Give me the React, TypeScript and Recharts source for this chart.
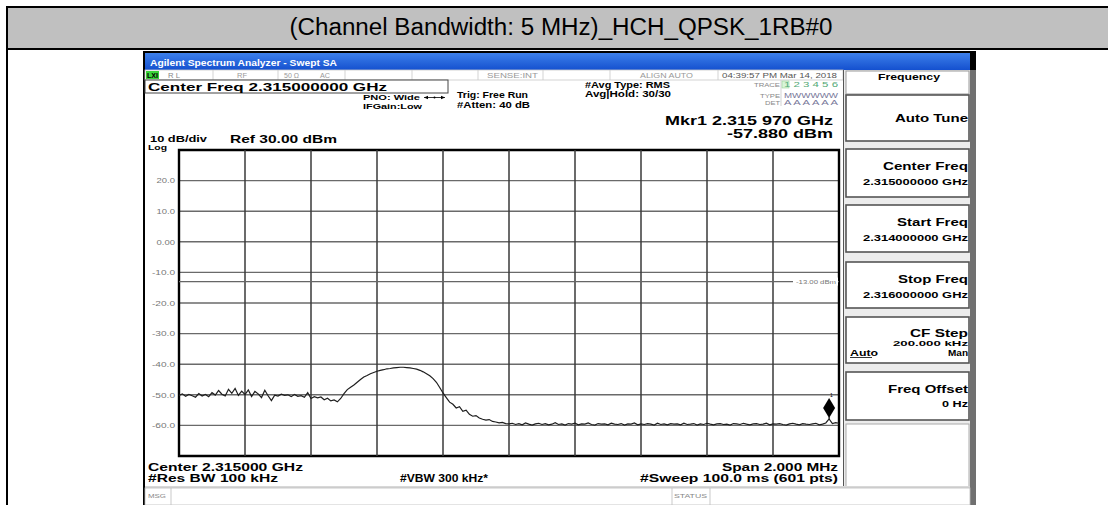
import React from 'react';
import { LineChart, Line, XAxis, YAxis, CartesianGrid, ReferenceLine, ReferenceDot, ReferenceArea } from 'recharts';

// ---- data ----
const FREQ_START_MHZ = 2314.0;
const FREQ_STEP_MHZ = 0.01;
const TRACE_DBM = [
  -50.2, -49.7, -50.5, -49.9, -50.3, -50.8, -49.6, -50.4, -49.9, -50.6,
  -49.3, -50.1, -48.6, -49.8, -50.4, -48.2, -49.5, -47.9, -50.2, -48.8,
  -49.9, -48.4, -50.6, -48.9, -49.7, -50.9, -48.5, -50.3, -51.9, -50.1,
  -50.4, -49.8, -50.2, -50.0, -50.6, -49.9, -50.5, -50.3, -50.8, -49.3,
  -51.2, -50.6, -51.0, -50.7, -51.6, -51.1, -52.0, -51.7, -52.3, -51.2,
  -49.6, -48.3, -47.5, -46.8, -45.9, -45.0, -44.2, -43.7, -43.1, -42.7,
  -42.3, -42.0, -41.8, -41.5, -41.4, -41.2, -41.1, -41.0, -41.0, -41.1,
  -41.2, -41.4, -41.6, -42.0, -42.5, -43.1, -43.8, -44.7, -45.9, -47.6,
  -49.4, -50.9, -52.4, -53.1, -54.3, -53.9, -55.4, -55.0, -56.4, -57.0,
  -56.8, -57.6, -58.0, -58.3, -58.1, -58.7, -58.9, -59.2, -59.0, -59.4,
  -59.5, -59.3, -59.7, -59.4, -59.8, -59.2, -59.6, -59.9, -59.5, -59.3,
  -59.7, -59.4, -59.8, -59.6, -59.1, -59.7, -59.5, -59.9, -59.4, -59.6,
  -59.3, -59.8, -59.5, -59.6, -59.2, -59.7, -59.9, -59.4, -59.6, -59.5,
  -59.8, -59.3, -59.6, -59.7, -59.4, -59.9, -59.5, -59.6, -59.2, -59.8,
  -59.5, -59.7, -59.4, -59.6, -59.9, -59.3, -59.7, -59.5, -59.8, -59.4,
  -59.6, -59.5, -59.8, -59.3, -59.7, -59.6, -59.4, -59.9, -59.5, -59.7,
  -59.3, -59.6, -59.8, -59.5, -59.4, -59.7, -59.6, -59.9, -59.4, -59.5,
  -59.7, -59.3, -59.6, -59.8, -59.5, -59.4, -59.7, -59.6, -59.3, -59.8,
  -59.5, -59.6, -59.4, -59.7, -59.9, -59.5, -59.3, -59.6, -59.8, -59.4,
  -59.6, -59.7, -59.5, -59.3, -59.8, -59.6, -59.2, -57.88, -59.4, -59.1,
  -59.3,
];
const X_DOMAIN = [2314.0, 2316.0];
const X_GRID_TICKS = [2314.2, 2314.4, 2314.6, 2314.8, 2315.0, 2315.2, 2315.4, 2315.6, 2315.8];
const Y_DOMAIN = [-70, 30];
const Y_TICKS = [-70, -60, -50, -40, -30, -20, -10, 0, 10, 20, 30];
const Y_TICK_LABELS: Record<number, string> = {
  20: '20.0', 10: '10.0', 0: '0.00', [-10]: '-10.0', [-20]: '-20.0',
  [-30]: '-30.0', [-40]: '-40.0', [-50]: '-50.0', [-60]: '-60.0',
};
const DISPLAY_LINE_DBM = -13;
const DISPLAY_LINE_LABEL = '-13.00 dBm';
const MARKER_FREQ_MHZ = 2315.97;
const MARKER_DBM = -57.88;

const DATA = TRACE_DBM.map((v, i) => ({ f: +(FREQ_START_MHZ + i * FREQ_STEP_MHZ).toFixed(2), v }));

const FONT = '"Liberation Sans", Arial, Helvetica, sans-serif';

function T({ x, y, s, w, b = true, c = '#000', a = 'start', adj = 'spacingAndGlyphs', children }: any) {
  return (
    <text x={x} y={y} fontSize={s} fontWeight={b ? 'bold' : 'normal'} fill={c} textAnchor={a}
      textLength={w} lengthAdjust={adj} fontFamily={FONT}>{children}</text>
  );
}

function Key({ y, h, light }: any) {
  return <rect x={846} y={y} width={123} height={h} fill="#fff" stroke={light ? '#aaa' : '#555'} strokeWidth={light ? 1 : 1.6} />;
}

function Background() {
  return (
    <svg width={1108} height={505} style={{ position: 'absolute', left: 0, top: 0 }}>
      <defs>
        <linearGradient id="tb" x1="0" y1="0" x2="0" y2="1">
          <stop offset="0" stopColor="#3d80ea" />
          <stop offset="1" stopColor="#1450cf" />
        </linearGradient>
      </defs>
      <rect x={0} y={0} width={1108} height={505} fill="#fff" />
      {/* document table */}
      <rect x={6} y={8} width={1102} height={40} fill="#c0c0c0" />
      <rect x={6} y={6} width={1102} height={2} fill="#000" />
      <rect x={6} y={48} width={1102} height={2} fill="#000" />
      <rect x={6} y={6} width={2} height={499} fill="#000" />
      <T x={561} y={35} s={23} b={false} a="middle" w={543}>(Channel Bandwidth: 5 MHz)_HCH_QPSK_1RB#0</T>

      {/* screenshot frame */}
      <rect x={143} y={51} width={833} height={454} fill="#000" />
      <rect x={145} y={70} width={825} height={435} fill="#fff" />
      <rect x={145} y={53} width={825} height={17} fill="url(#tb)" />
      <rect x={970} y={70} width={6} height={435} fill="#707070" />
      <T x={150} y={66} s={9.5} w={187} c="#fff">Agilent Spectrum Analyzer - Swept SA</T>

      {/* status row */}
      <rect x={145} y={70} width={698} height={10} fill="#fff" stroke="#c8c8c8" strokeWidth={0.8} />
      {[213, 278, 345, 412, 478, 543, 610, 718].map((x) => (
        <line key={x} x1={x} y1={70} x2={x} y2={80} stroke="#c8c8c8" strokeWidth={0.8} />
      ))}
      <rect x={146} y={71} width={13} height={8} fill="#3ad43a" />
      <T x={147} y={78} s={6.5} w={11} c="#000">LXI</T>
      <T x={168} y={78} s={6.5} w={12} b={false} c="#888">R L</T>
      <T x={237} y={78} s={6.5} w={10} b={false} c="#999">RF</T>
      <T x={284} y={78} s={6.5} w={15} b={false} c="#999">50 Ω</T>
      <T x={320} y={78} s={6.5} w={10} b={false} c="#999">AC</T>
      <T x={487} y={78} s={6.5} w={51} b={false} c="#999">SENSE:INT</T>
      <T x={640} y={78} s={6.5} w={53} b={false} c="#999">ALIGN AUTO</T>
      <T x={722} y={78} s={6.5} w={115} b={false} c="#555">04:39:57 PM Mar 14, 2018</T>

      {/* center freq box */}
      <rect x={145} y={80} width={303} height={13} fill="#fff" stroke="#444" strokeWidth={1} />
      <T x={148} y={91} s={11} w={239}>Center Freq 2.315000000 GHz</T>
      <T x={363} y={100} s={7.5} w={57}>PNO: Wide</T>
      <line x1={424} y1={97.5} x2={445} y2={97.5} stroke="#000" strokeWidth={0.8} />
      <polygon points="424,97.5 428,95.8 428,99.2" fill="#000" />
      <polygon points="445,97.5 441,95.8 441,99.2" fill="#000" />
      <circle cx={434.5} cy={97.5} r={1} fill="#000" />
      <T x={363} y={109} s={7.5} w={59}>IFGain:Low</T>
      <T x={457} y={98} s={8.5} w={71}>Trig: Free Run</T>
      <T x={457} y={108} s={8.5} w={73}>#Atten: 40 dB</T>
      <T x={585} y={88} s={8.5} w={85}>#Avg Type: RMS</T>
      <T x={585} y={97} s={8.5} w={86}>Avg|Hold: 30/30</T>

      {/* trace block */}
      <line x1={781} y1={80} x2={781} y2={106} stroke="#c8c8c8" strokeWidth={0.8} />
      <T x={780} y={87} s={5} w={26} b={false} c="#888" a="end">TRACE</T>
      <rect x={782} y={81} width={7} height={7} fill="#d8f5d8" stroke="#8c8" strokeWidth={0.5} />
      <T x={784} y={87} s={7} w={54} b={false} c="#5a7">1 2 3 4 5 6</T>
      <T x={780} y={98} s={5} w={20} b={false} c="#888" a="end">TYPE</T>
      <T x={784} y={98} s={6.5} w={54} b={false} c="#779">MWWWWW</T>
      <T x={780} y={105} s={5} w={15} b={false} c="#888" a="end">DET</T>
      <T x={784} y={105} s={6.5} w={54} b={false} c="#779">A A A A A A</T>

      {/* marker readout */}
      <T x={833} y={125} s={13.5} w={168} a="end">Mkr1 2.315 970 GHz</T>
      <T x={833} y={138} s={13.5} w={106} a="end">-57.880 dBm</T>

      <T x={150} y={142} s={9} w={57}>10 dB/div</T>
      <T x={148} y={149.5} s={8} w={19}>Log</T>
      <T x={230} y={143} s={11} w={107}>Ref 30.00 dBm</T>

      {/* softkey panel */}
      <rect x={843} y={70} width={127} height={418} fill="#ececec" />
      <line x1={843.5} y1={70} x2={843.5} y2={488} stroke="#555" strokeWidth={1} />
      <rect x={846} y={71} width={123} height={23} fill="#fff" stroke="#999" strokeWidth={1} />
      <T x={878} y={80} s={8.5} w={62}>Frequency</T>
      <Key y={95} h={46} />
      <T x={968} y={122} s={10.5} w={73} a="end">Auto Tune</T>
      <Key y={149} h={48} />
      <T x={968} y={170} s={10.5} w={85} a="end">Center Freq</T>
      <T x={968} y={185} s={8.5} w={105} a="end">2.315000000 GHz</T>
      <Key y={205} h={47} />
      <T x={968} y={226} s={10.5} w={71} a="end">Start Freq</T>
      <T x={968} y={241} s={8.5} w={105} a="end">2.314000000 GHz</T>
      <Key y={262} h={46} />
      <T x={968} y={283} s={10.5} w={70} a="end">Stop Freq</T>
      <T x={968} y={298} s={8.5} w={105} a="end">2.316000000 GHz</T>
      <Key y={317} h={46} />
      <T x={968} y={337} s={10.5} w={58} a="end">CF Step</T>
      <T x={968} y={345.5} s={8} w={75} a="end">200.000 kHz</T>
      <T x={850} y={356} s={8.5} w={28}>Auto</T>
      <line x1={850} y1={357.5} x2={872} y2={357.5} stroke="#000" strokeWidth={0.8} />
      <T x={968} y={356} s={8.5} w={20} a="end">Man</T>
      <Key y={372} h={48} />
      <T x={968} y={393} s={10.5} w={80} a="end">Freq Offset</T>
      <T x={968} y={407} s={8.5} w={26} a="end">0 Hz</T>
      <Key y={424} h={63} light />

      {/* bottom annotations */}
      <T x={148} y={470.5} s={11} w={155}>Center 2.315000 GHz</T>
      <T x={148} y={482} s={11} w={130}>#Res BW 100 kHz</T>
      <T x={400} y={482} s={11} w={88}>#VBW 300 kHz*</T>
      <T x={838} y={470.5} s={11} w={116} a="end">Span 2.000 MHz</T>
      <T x={838} y={482} s={11} w={198} a="end">#Sweep  100.0 ms (601 pts)</T>

      {/* message row */}
      <rect x={145} y={486} width={825} height={2} fill="#d8d8d8" />
      <rect x={145} y={488} width={825} height={17} fill="#fff" stroke="#bbb" strokeWidth={0.8} />
      <line x1={171} y1={488} x2={171} y2={505} stroke="#bbb" strokeWidth={0.8} />
      <line x1={672} y1={488} x2={672} y2={505} stroke="#bbb" strokeWidth={0.8} />
      <line x1={710} y1={488} x2={710} y2={505} stroke="#bbb" strokeWidth={0.8} />
      <T x={148} y={498} s={6} w={18} b={false} c="#888">MSG</T>
      <T x={674} y={498} s={6} w={33} b={false} c="#888">STATUS</T>
    </svg>
  );
}

function YTick({ x, y, payload }: any) {
  const label = Y_TICK_LABELS[payload.value];
  if (!label) return null;
  return (
    <text x={x} y={y} dy="0.35em" textAnchor="end" fontSize={8} fill="#777" fontFamily={FONT}
      textLength={label.length * 4.6} lengthAdjust="spacingAndGlyphs">{label}</text>
  );
}

function DisplayLineLabel({ viewBox }: any) {
  const x = viewBox.x + viewBox.width;
  const y = viewBox.y;
  return (
    <g>
      <rect x={x - 46} y={y - 4} width={45} height={8} fill="#fff" />
      <text x={x - 3} y={y} dy="0.35em" textAnchor="end" fontSize={6} fill="#777" fontFamily={FONT}
        textLength={40} lengthAdjust="spacingAndGlyphs">{DISPLAY_LINE_LABEL}</text>
    </g>
  );
}

function MarkerShape({ cx, cy }: any) {
  return (
    <g>
      <line x1={cx} y1={cy} x2={cx} y2={cy - 2} stroke="#000" strokeWidth={1} />
      <polygon points={`${cx},${cy - 21} ${cx + 6},${cy - 11} ${cx},${cy - 1} ${cx - 6},${cy - 11}`} fill="#000" />
      <text x={cx + 1} y={cy - 22} fontSize={5} fill="#000" fontFamily={FONT}>1</text>
    </g>
  );
}

export default function App() {
  return (
    <div style={{ position: 'absolute', left: 0, top: 0, width: 1108, height: 505, overflow: 'hidden', background: '#fff' }}>
      <Background />
      <div style={{ position: 'absolute', left: 0, top: 0 }}>
        <LineChart width={1108} height={505} data={DATA} margin={{ top: 150, right: 269, bottom: 49, left: 139 }}>
          <CartesianGrid stroke="#6a6a6a" strokeWidth={1.4} vertical={false} />
          <XAxis dataKey="f" type="number" domain={X_DOMAIN} ticks={X_GRID_TICKS} tick={false} tickLine={false} axisLine={false} height={0} allowDataOverflow />
          <YAxis type="number" domain={Y_DOMAIN} ticks={Y_TICKS} width={40} tickSize={0} tickMargin={4} axisLine={false} tickLine={false} tick={<YTick />} allowDataOverflow />
          {X_GRID_TICKS.map((f) => (
            <ReferenceLine key={f} x={f} stroke="#3a3a3a" strokeWidth={1.5} />
          ))}
          <ReferenceLine y={DISPLAY_LINE_DBM} stroke="#666" strokeWidth={1.2} label={<DisplayLineLabel />} />
          <Line dataKey="v" type="linear" stroke="#1e1e1e" strokeWidth={1.2} dot={false} isAnimationActive={false} />
          <ReferenceArea x1={X_DOMAIN[0]} x2={X_DOMAIN[1]} y1={Y_DOMAIN[0]} y2={Y_DOMAIN[1]} fill="none" stroke="#000" strokeWidth={2.4} ifOverflow="visible" />
          <ReferenceDot x={MARKER_FREQ_MHZ} y={MARKER_DBM} r={0} shape={<MarkerShape />} ifOverflow="visible" />
        </LineChart>
      </div>
    </div>
  );
}
